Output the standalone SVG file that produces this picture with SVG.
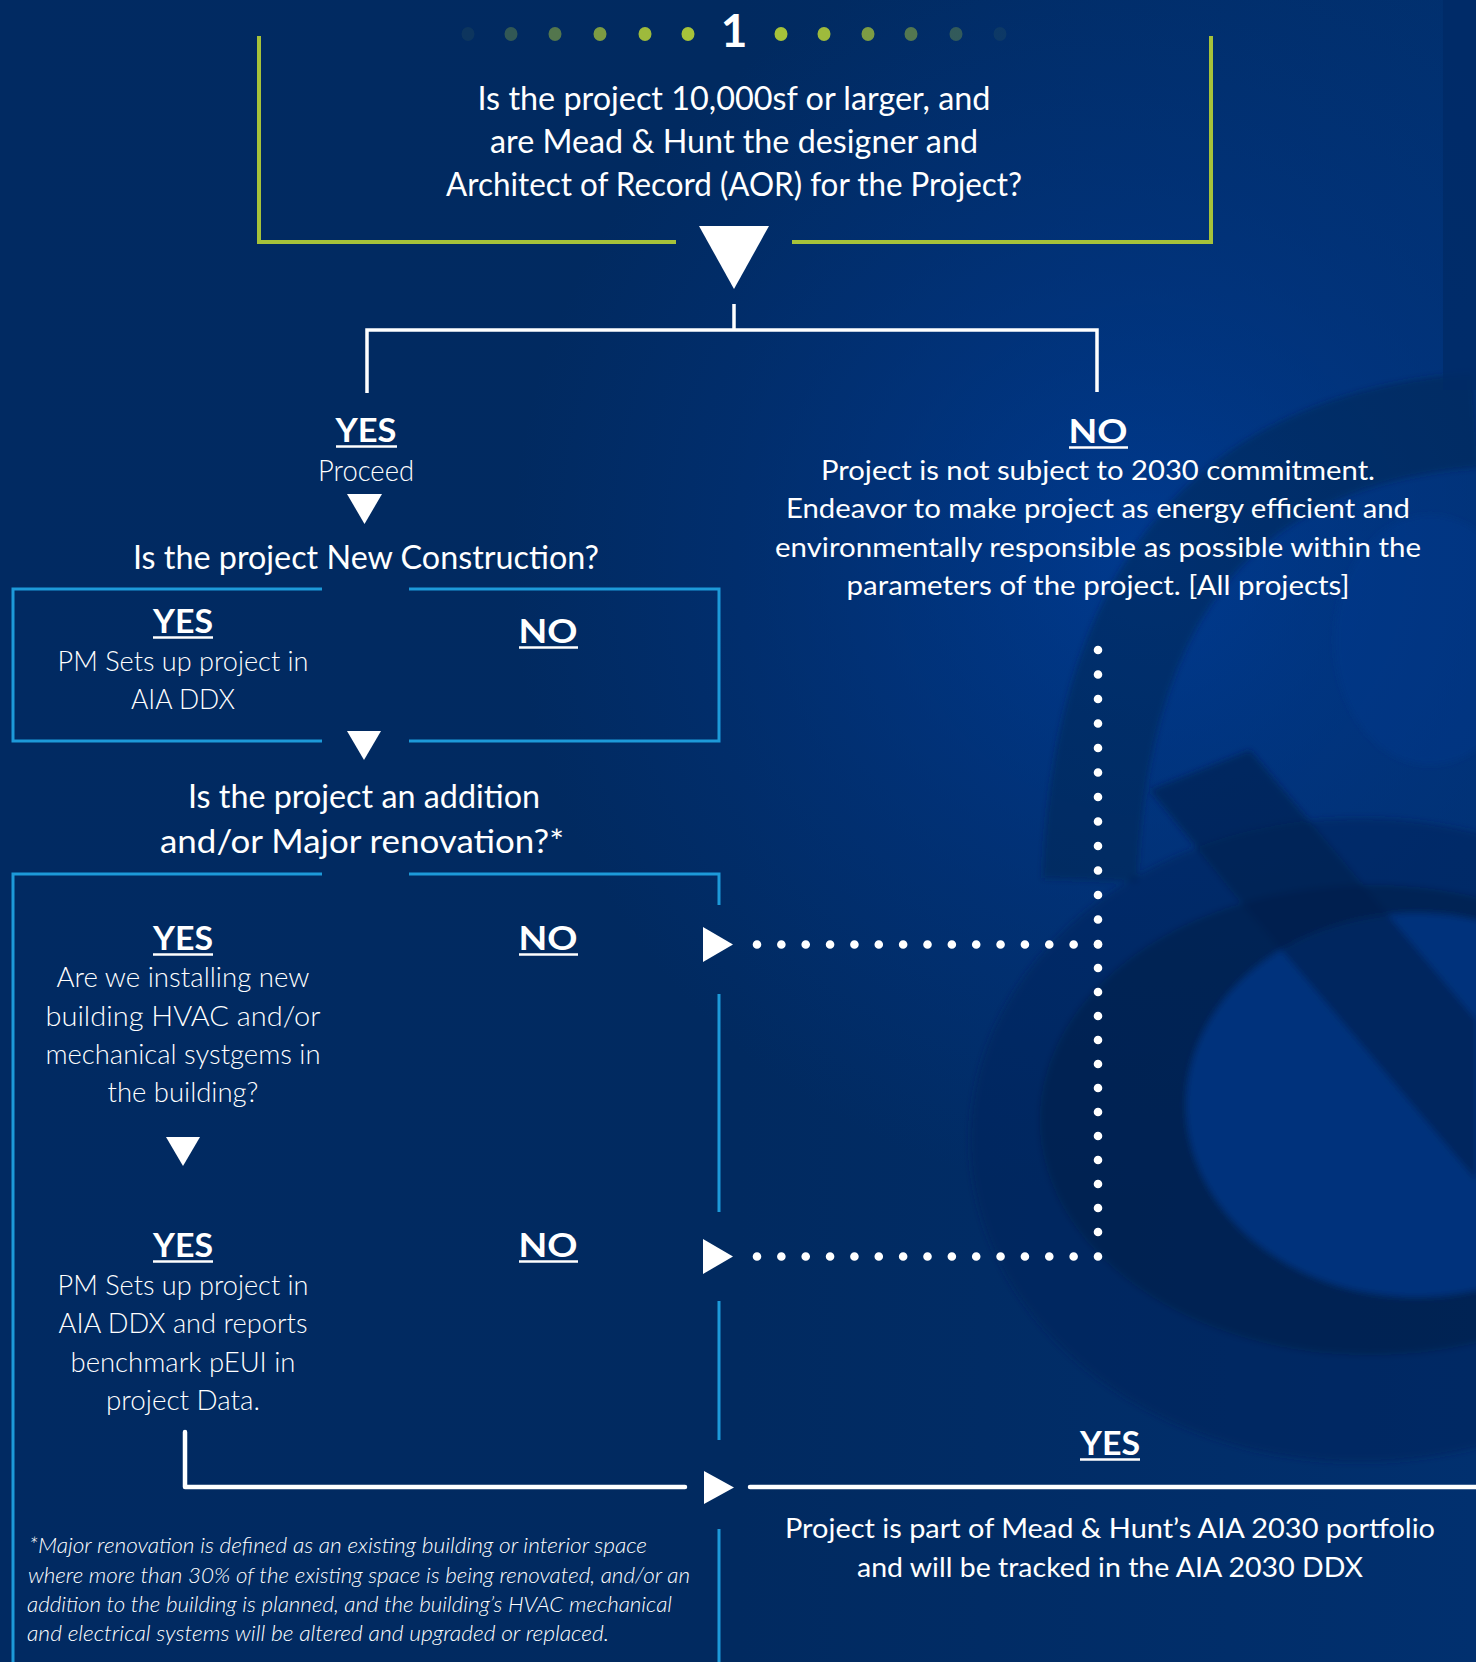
<svg xmlns="http://www.w3.org/2000/svg" width="1476" height="1662" viewBox="0 0 1476 1662">
<defs>
<radialGradient id="glow" cx="1150" cy="560" r="640" gradientUnits="userSpaceOnUse">
<stop offset="0" stop-color="#003d98" stop-opacity="0.8"/>
<stop offset="0.6" stop-color="#00378a" stop-opacity="0.35"/>
<stop offset="1" stop-color="#00378a" stop-opacity="0"/>
</radialGradient>
<linearGradient id="bg" x1="0" y1="0" x2="1" y2="0">
<stop offset="0" stop-color="#012a62"/>
<stop offset="0.5" stop-color="#012a60"/>
<stop offset="1" stop-color="#01306f"/>
</linearGradient>
<filter id="soft" x="-20%" y="-20%" width="140%" height="140%"><feGaussianBlur stdDeviation="3"/></filter>
</defs>
<style>
.t{font-family:Lato,"Open Sans","Liberation Sans",sans-serif;fill:#ffffff;text-anchor:middle}
.q{font-size:33px}
.b{font-size:33px;font-weight:700}
.l{font-size:27px;font-weight:300}
.c{font-size:26px}
.fn{font-family:Lato,"Open Sans","Liberation Sans",sans-serif;fill:#ffffff;font-size:21px;font-style:italic;font-weight:300}
.ul{stroke:#ffffff;stroke-width:2.5}
.blue{fill:none;stroke:#1d9ad9;stroke-width:3}
.wl{fill:none;stroke:#ffffff;stroke-width:3.5}
.wl2{fill:none;stroke:#ffffff;stroke-width:4.5;stroke-linecap:round;stroke-linejoin:round}
.tri{fill:#ffffff}
.dots{fill:none;stroke:#ffffff;stroke-width:8.6;stroke-linecap:round}
.gd{fill:#a6c23a}
.amp{fill:#01214c}
</style>
<!-- background -->
<rect x="0" y="0" width="1476" height="1662" fill="url(#bg)"/>
<rect x="0" y="0" width="1476" height="1662" fill="url(#glow)"/>
<g id="bg-decoration" filter="url(#soft)">
<ellipse cx="1360" cy="1140" rx="390" ry="322" fill="#00265a" opacity="0.5"/>
<path d="M1090,880 C1100,610 1210,440 1476,420" fill="none" stroke="#01214c" stroke-width="95" opacity="0.45"/>
<ellipse class="amp" cx="1370" cy="1120" rx="330" ry="235" opacity="0.65"/>
<ellipse cx="1416" cy="1105" rx="230" ry="192" fill="#00337b"/>
<polygon class="amp" points="1150,790 1250,750 1476,1020 1476,1180 1235,895" opacity="0.6"/>
<ellipse cx="1430" cy="640" rx="95" ry="125" fill="#003a8c" opacity="0.4"/>
</g>
<rect x="1443" y="0" width="33" height="390" fill="#002a66" opacity="0.8"/>

<!-- Node 1: first question -->
<g id="q1">
<g id="progress">
<ellipse class="gd" cx="468" cy="34" rx="6.5" ry="7" opacity="0.08"/>
<ellipse class="gd" cx="511" cy="34" rx="6.5" ry="7" opacity="0.3"/>
<ellipse class="gd" cx="555" cy="34" rx="6.5" ry="7" opacity="0.5"/>
<ellipse class="gd" cx="600" cy="34" rx="6.5" ry="7" opacity="0.75"/>
<ellipse class="gd" cx="645" cy="34" rx="6.5" ry="7" opacity="0.95"/>
<ellipse class="gd" cx="688" cy="34" rx="6.5" ry="7"/>
<ellipse class="gd" cx="781" cy="34" rx="6.5" ry="7"/>
<ellipse class="gd" cx="824" cy="34" rx="6.5" ry="7" opacity="0.95"/>
<ellipse class="gd" cx="868" cy="34" rx="6.5" ry="7" opacity="0.75"/>
<ellipse class="gd" cx="911" cy="34" rx="6.5" ry="7" opacity="0.5"/>
<ellipse class="gd" cx="956" cy="34" rx="6.5" ry="7" opacity="0.3"/>
<ellipse class="gd" cx="1000" cy="34" rx="6.5" ry="7" opacity="0.08"/>
<text class="t" x="734" y="47" style="font-size:46px;font-weight:700">1</text>
</g>
<path d="M259,36 V242 H676 M792,242 H1211 V36" fill="none" stroke="#a6c23a" stroke-width="4"/>
<text class="t q" x="734" y="110" textLength="513" lengthAdjust="spacingAndGlyphs">Is the project 10,000sf or larger, and</text>
<text class="t q" x="734" y="153" textLength="488" lengthAdjust="spacingAndGlyphs">are Mead &amp; Hunt the designer and</text>
<text class="t q" x="734" y="196" textLength="576" lengthAdjust="spacingAndGlyphs">Architect of Record (AOR) for the Project?</text>
</g>

<!-- YES proceed -->
<g id="yes-proceed">
<text class="t b" x="366" y="442" textLength="61" lengthAdjust="spacingAndGlyphs">YES</text>
<line class="ul" x1="336" y1="446.5" x2="397" y2="446.5"/>
<text class="t" x="366" y="481" style="font-size:30px;font-weight:300" textLength="96" lengthAdjust="spacingAndGlyphs">Proceed</text>
</g>

<!-- NO not subject -->
<g id="no-not-subject">
<text class="t b" x="1098" y="443" textLength="59" lengthAdjust="spacingAndGlyphs">NO</text>
<line class="ul" x1="1069" y1="447.5" x2="1128" y2="447.5"/>
<text class="t c" x="1098" y="480" textLength="554" lengthAdjust="spacingAndGlyphs">Project is not subject to 2030 commitment.</text>
<text class="t c" x="1098" y="518" textLength="624" lengthAdjust="spacingAndGlyphs">Endeavor to make project as energy efficient and</text>
<text class="t c" x="1098" y="557" textLength="646" lengthAdjust="spacingAndGlyphs">environmentally responsible as possible within the</text>
<text class="t c" x="1098" y="595" textLength="503" lengthAdjust="spacingAndGlyphs">parameters of the project. [All projects]</text>
</g>

<!-- Node 2: new construction -->
<g id="q2">
<text class="t" x="366" y="569" style="font-size:32px" textLength="466" lengthAdjust="spacingAndGlyphs">Is the project New Construction?</text>
<path class="blue" d="M322,589 H13 V741 H322 M409,741 H719 V589 H409"/>
<text class="t b" x="183" y="633" textLength="60" lengthAdjust="spacingAndGlyphs">YES</text>
<line class="ul" x1="153" y1="637.5" x2="213" y2="637.5"/>
<text class="t l" x="183" y="671" textLength="251" lengthAdjust="spacingAndGlyphs">PM Sets up project in</text>
<text class="t l" x="183" y="709" textLength="104" lengthAdjust="spacingAndGlyphs">AIA DDX</text>
<text class="t b" x="548" y="643" textLength="59" lengthAdjust="spacingAndGlyphs">NO</text>
<line class="ul" x1="519" y1="647.5" x2="578" y2="647.5"/>
</g>

<!-- Node 3: addition / major renovation -->
<g id="q3">
<text class="t q" x="364" y="808" textLength="352" lengthAdjust="spacingAndGlyphs">Is the project an addition</text>
<text class="t q" x="362" y="853" textLength="404" lengthAdjust="spacingAndGlyphs">and/or Major renovation?*</text>
<path class="blue" d="M322,874 H13 V1662 M409,874 H719 V905 M719,994 V1212 M719,1301 V1440 M719,1529 V1662"/>
<text class="t b" x="183" y="950" textLength="60" lengthAdjust="spacingAndGlyphs">YES</text>
<line class="ul" x1="153" y1="954.5" x2="213" y2="954.5"/>
<text class="t b" x="548" y="950" textLength="59" lengthAdjust="spacingAndGlyphs">NO</text>
<line class="ul" x1="519" y1="954.5" x2="578" y2="954.5"/>
</g>

<!-- Node 4: HVAC question -->
<g id="q4">
<text class="t l" x="183" y="987" textLength="253" lengthAdjust="spacingAndGlyphs">Are we installing new</text>
<text class="t l" x="183" y="1026" textLength="275" lengthAdjust="spacingAndGlyphs">building HVAC and/or</text>
<text class="t l" x="183" y="1064" textLength="275" lengthAdjust="spacingAndGlyphs">mechanical systgems in</text>
<text class="t l" x="183" y="1102" textLength="151" lengthAdjust="spacingAndGlyphs">the building?</text>
<text class="t b" x="183" y="1257" textLength="60" lengthAdjust="spacingAndGlyphs">YES</text>
<line class="ul" x1="153" y1="1261.5" x2="213" y2="1261.5"/>
<text class="t b" x="548" y="1257" textLength="59" lengthAdjust="spacingAndGlyphs">NO</text>
<line class="ul" x1="519" y1="1261.5" x2="578" y2="1261.5"/>
</g>

<!-- Node 5: PM sets up with benchmark -->
<g id="pm-benchmark">
<text class="t l" x="183" y="1295" textLength="251" lengthAdjust="spacingAndGlyphs">PM Sets up project in</text>
<text class="t l" x="183" y="1333" textLength="249" lengthAdjust="spacingAndGlyphs">AIA DDX and reports</text>
<text class="t l" x="183" y="1372" textLength="225" lengthAdjust="spacingAndGlyphs">benchmark pEUI in</text>
<text class="t l" x="183" y="1410" textLength="154" lengthAdjust="spacingAndGlyphs">project Data.</text>
</g>

<!-- Node 6: portfolio -->
<g id="portfolio">
<text class="t" x="1110" y="1455" style="font-size:32px;font-weight:700" textLength="60" lengthAdjust="spacingAndGlyphs">YES</text>
<line class="ul" x1="1080" y1="1459.5" x2="1140" y2="1459.5"/>
<text class="t c" x="1110" y="1538" textLength="650" lengthAdjust="spacingAndGlyphs">Project is part of Mead &amp; Hunt’s AIA 2030 portfolio</text>
<text class="t c" x="1110" y="1577" textLength="506" lengthAdjust="spacingAndGlyphs">and will be tracked in the AIA 2030 DDX</text>
</g>

<!-- Footnote -->
<g id="footnote">
<text class="fn" x="29" y="1553" textLength="618" lengthAdjust="spacingAndGlyphs">*Major renovation is defined as an existing building or interior space</text>
<text class="fn" x="28" y="1583" textLength="662" lengthAdjust="spacingAndGlyphs">where more than 30% of the existing space is being renovated, and/or an</text>
<text class="fn" x="27" y="1612" textLength="645" lengthAdjust="spacingAndGlyphs">addition to the building is planned, and the building’s HVAC mechanical</text>
<text class="fn" x="27" y="1641" textLength="582" lengthAdjust="spacingAndGlyphs">and electrical systems will be altered and upgraded or replaced.</text>
</g>

<!-- Connectors -->
<g id="connectors">
<polygon class="tri" points="699,226 769,226 734,289"/>
<line class="wl" x1="734" y1="304" x2="734" y2="330"/>
<path class="wl" d="M367,393 V330 H1097 V392"/>
<polygon class="tri" points="347,494 382,494 364.5,524"/>
<polygon class="tri" points="347,731 381,731 364,760"/>
<polygon class="tri" points="166,1137 200,1137 183,1166"/>
<polygon class="tri" points="703,927 703,962 733,944.5"/>
<polygon class="tri" points="703,1239 703,1274 733,1256.5"/>
<polygon class="tri" points="704,1471 704,1504 734,1487.5"/>
<path class="wl2" d="M185,1432 V1487 H685"/>
<path class="wl2" d="M750,1487 H1480"/>
<line class="dots" x1="1098" y1="650" x2="1098" y2="944" stroke-dasharray="0 24.5"/>
<line class="dots" x1="1098" y1="944" x2="1098" y2="1256" stroke-dasharray="0 24"/>
<line class="dots" x1="757" y1="944.5" x2="1098" y2="944.5" stroke-dasharray="0 24.357"/>
<line class="dots" x1="757" y1="1256.5" x2="1098" y2="1256.5" stroke-dasharray="0 24.357"/>
</g>
</svg>
